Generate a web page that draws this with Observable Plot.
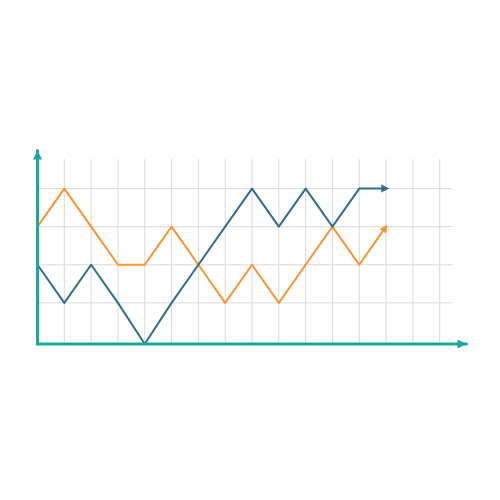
<!DOCTYPE html>
<html>
<head>
<meta charset="utf-8">
<script src="https://cdn.jsdelivr.net/npm/d3@7"></script>
<script src="https://cdn.jsdelivr.net/npm/@observablehq/plot@0.6"></script>
<style>
  html, body { margin: 0; padding: 0; background: #fff; }
  #chart svg { display: block; }
</style>
</head>
<body>
<div id="chart"></div>
<script>
// Step index along the x axis
const steps = [0,1,2,3,4,5,6,7,8,9,10,11,12,13];
// Series values (grid levels)
const blueValues   = [2,1,2,1,-0.08,1,2,3,4,3,4,3,4,4];
const orangeValues = [3,4,3,2,2,3,2,1,2,1,2,3,2,3];
// Grid tick positions
const xGridTicks = [1,2,3,4,5,6,7,8,9,10,11,12,13,14,15];
const yGridTicks = [1,2,3,4];
const axisBase = -0.08;

const colors = { axis: "#17a99a", blue: "#2f6e8c", orange: "#f7962f", grid: "#d9d9d9" };

const blue = steps.map((s, i) => ({x: s, y: blueValues[i]}));
const orange = steps.map((s, i) => ({x: s, y: orangeValues[i]}));
const xAxisLine = [{x: 0, y: axisBase}, {x: 16, y: axisBase}];
const yAxisLine = [{x: 0, y: axisBase}, {x: 0, y: 5}];

const chart = Plot.plot({
  width: 500,
  height: 500,
  marginTop: 150,
  marginBottom: 156.5,
  marginLeft: 37,
  marginRight: 34,
  x: {domain: [0, 16], axis: null},
  y: {domain: [axisBase, 5], axis: null},
  marks: [
    Plot.ruleX(xGridTicks, {y1: axisBase, y2: 4.76, stroke: colors.grid, strokeWidth: 1}),
    Plot.ruleY(yGridTicks, {x1: 0, x2: 15.5, stroke: colors.grid, strokeWidth: 1}),
    Plot.line(orange, {x: "x", y: "y", stroke: colors.orange, strokeWidth: 2, className: "s-orange"}),
    Plot.line(blue, {x: "x", y: "y", stroke: colors.blue, strokeWidth: 2, className: "s-blue"}),
    Plot.line(xAxisLine, {x: "x", y: "y", stroke: colors.axis, strokeWidth: 3, className: "s-axis"}),
    Plot.line(yAxisLine, {x: "x", y: "y", stroke: colors.axis, strokeWidth: 3, className: "s-axis"})
  ]
});

// Filled triangular arrowheads via SVG markers
const ns = "http://www.w3.org/2000/svg";
const defs = document.createElementNS(ns, "defs");
function addMarker(id, color, size, ref) {
  const m = document.createElementNS(ns, "marker");
  m.setAttribute("id", id);
  m.setAttribute("viewBox", "-10 -5 10 10");
  m.setAttribute("refX", ref);
  m.setAttribute("refY", "0");
  m.setAttribute("markerUnits", "userSpaceOnUse");
  m.setAttribute("markerWidth", size);
  m.setAttribute("markerHeight", size);
  m.setAttribute("orient", "auto");
  m.setAttribute("overflow", "visible");
  const p = document.createElementNS(ns, "path");
  p.setAttribute("d", "M-10,-5L0,0L-10,5Z");
  p.setAttribute("fill", color);
  m.appendChild(p);
  defs.appendChild(m);
}
addMarker("mk-axis", colors.axis, 9, "0");
addMarker("mk-blue", colors.blue, 8, "-4");
addMarker("mk-orange", colors.orange, 8, "-3");
chart.insertBefore(defs, chart.firstChild);
const setMarker = (cls, id) => chart.querySelectorAll("." + cls + " path").forEach(p => p.setAttribute("marker-end", `url(#${id})`));
setMarker("s-axis", "mk-axis");
setMarker("s-blue", "mk-blue");
setMarker("s-orange", "mk-orange");

document.getElementById("chart").appendChild(chart);
</script>
</body>
</html>
